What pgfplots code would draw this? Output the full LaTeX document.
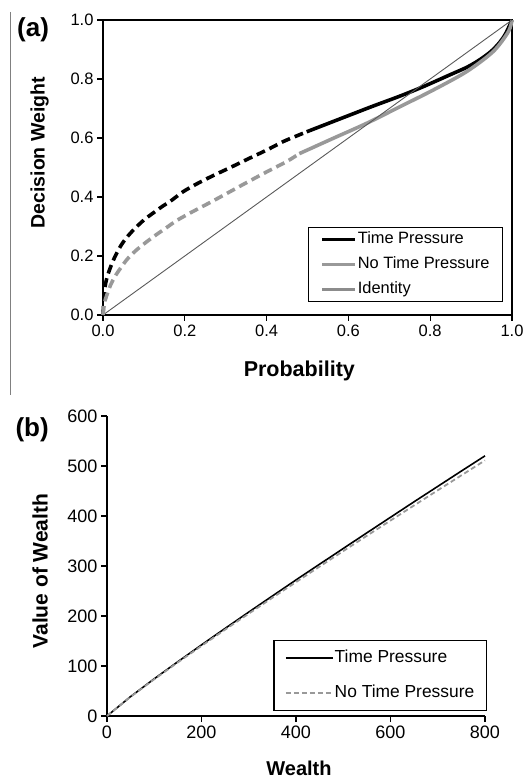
\documentclass[border=0pt]{standalone}
\usepackage{fontspec}
\setmainfont{Liberation Sans}
\usepackage{pgfplots}
\pgfplotsset{compat=1.18}
\definecolor{ntp}{gray}{0.6}
\definecolor{idc}{gray}{0.35}
\definecolor{idl}{gray}{0.55}

\begin{document}
\begin{tikzpicture}[x=1pt,y=1pt]
\useasboundingbox (0,0) rectangle (523,778);
\draw[gray, line width=1pt] (10,766) -- (10,383);

% ---------------- Panel (a) ----------------
\begin{axis}[
  at={(103pt,463pt)}, anchor=south west,
  scale only axis, width=409pt, height=295pt,
  xmin=0, xmax=1, ymin=0, ymax=1,
  xtick={0,0.2,0.4,0.6,0.8,1}, ytick={0,0.2,0.4,0.6,0.8,1},
  tick pos=left, tick align=outside, major tick length=6pt,
  every tick/.style={black, line width=1.3pt},
  axis line style={line width=1.4pt},
  /pgf/number format/assume math mode=true,
  /pgf/number format/.cd, fixed, fixed zerofill, precision=1, /pgfplots/.cd,
  tick label style={font=\fontsize{16.5}{18}\selectfont},
  xlabel={Probability}, ylabel={Decision Weight},
  xlabel style={at={(axis description cs:0.48,-0.19)}, anchor=center, font=\fontsize{21.5}{24}\selectfont\bfseries},
  ylabel style={at={(axis description cs:-0.155,0.55)}, anchor=center, font=\fontsize{19.5}{22}\selectfont\bfseries},
  clip=false,
  legend cell align=left,
  legend image code/.code={\draw[#1] (0pt,0pt) -- (33pt,0pt);},
  legend style={at={(0.978,0.044)}, anchor=south east, draw=black, line width=1.2pt,
    font=\fontsize{16.4}{18}\selectfont, inner xsep=12pt, inner ysep=3.5pt, row sep=8pt,
    nodes={inner sep=1pt, text height=12pt, text depth=3pt}},
]
\addplot[black, line width=3.6pt, smooth] coordinates {
(0.498,0.621) (0.55,0.649) (0.604,0.678) (0.66,0.708) (0.726,0.742) (0.783,0.774)
(0.848,0.814) (0.89,0.840) (0.922,0.866) (0.95,0.895) (0.971,0.926) (0.985,0.955) (1.0,1.0)};
\addlegendentry{Time Pressure}
\addplot[ntp, line width=3.6pt, smooth] coordinates {
(0.48,0.547) (0.52,0.572) (0.563,0.599) (0.645,0.650) (0.726,0.706) (0.808,0.763)
(0.889,0.825) (0.954,0.893) (0.991,0.96) (1.0,1.0)};
\addlegendentry{No Time Pressure}
\addplot[idc, line width=0.9pt, legend image post style={idl, line width=2.2pt}] coordinates {(0,0) (1,1)};
\addlegendentry{Identity}
\addplot[black, line width=3.6pt, smooth, dash pattern=on 9pt off 5pt, forget plot] coordinates {
(0,0) (0.004,0.085) (0.01,0.128) (0.02,0.168) (0.03,0.2) (0.045,0.238) (0.06,0.266)
(0.077,0.292) (0.10,0.322) (0.118,0.341) (0.145,0.368) (0.167,0.388) (0.196,0.418)
(0.23,0.445) (0.27,0.473) (0.31,0.499) (0.35,0.526) (0.40,0.559) (0.441,0.588) (0.47,0.605) (0.498,0.621)};
\addplot[ntp, line width=3.6pt, smooth, dash pattern=on 9pt off 5pt, forget plot] coordinates {
(0,0) (0.003,0.04) (0.008,0.062) (0.018,0.10) (0.029,0.13) (0.045,0.163) (0.061,0.192)
(0.08,0.218) (0.102,0.243) (0.125,0.267) (0.151,0.292) (0.18,0.32) (0.216,0.348)
(0.26,0.38) (0.30,0.41) (0.35,0.448) (0.40,0.485) (0.449,0.52) (0.48,0.547)};
\node[font=\fontsize{26}{28}\selectfont\bfseries] at (axis description cs:-0.171,0.966) {(a)};
\end{axis}

% ---------------- Panel (b) ----------------
\begin{axis}[
  at={(107pt,62pt)}, anchor=south west,
  scale only axis, width=378pt, height=300pt,
  xmin=0, xmax=800, ymin=0, ymax=600,
  xtick={0,200,400,600,800}, ytick={0,100,200,300,400,500,600},
  axis x line*=bottom, axis y line*=left,
  tick align=outside, major tick length=6pt,
  every tick/.style={black, line width=1.3pt},
  axis line style={line width=1.4pt, -},
  /pgf/number format/assume math mode=true,
  tick label style={font=\fontsize{18}{20}\selectfont},
  xlabel={Wealth}, ylabel={Value of Wealth},
  xlabel style={at={(axis description cs:0.508,-0.173)}, anchor=center, font=\fontsize{20}{22}\selectfont\bfseries},
  ylabel style={at={(axis description cs:-0.177,0.483)}, anchor=center, font=\fontsize{21}{23}\selectfont\bfseries},
  clip=false,
  legend cell align=left,
  legend image code/.code={\draw[#1] (0pt,0pt) -- (47pt,0pt);},
  legend style={at={(1.005,0.017)}, anchor=south east, draw=black, line width=1.2pt,
    font=\fontsize{17.4}{19}\selectfont, inner xsep=11pt, inner ysep=8pt, row sep=16pt,
    nodes={inner sep=1pt, text height=13pt, text depth=4pt}},
]
\addplot[black, line width=1.6pt] coordinates {
(0,0) (50,38.9) (100,74.4) (150,108.6) (200,142.2) (250,175.2) (300,207.8) (350,240.0)
(400,272.1) (450,303.6) (500,335.0) (550,366.3) (600,397.4) (650,428.5) (700,459.2)
(750,489.9) (800,520.3)};
\addlegendentry{Time Pressure}
\addplot[ntp, line width=1.8pt, dash pattern=on 5pt off 3pt] coordinates {
(0,0) (50,38.5) (100,73.4) (150,107.2) (200,140.2) (250,172.7) (300,204.7) (350,236.4)
(400,267.8) (450,298.9) (500,329.8) (550,360.5) (600,390.9) (650,421.2) (700,451.4)
(750,481.3) (800,511.2)};
\addlegendentry{No Time Pressure}
\node[font=\fontsize{26}{28}\selectfont\bfseries] at (axis description cs:-0.198,0.953) {(b)};
\end{axis}
\end{tikzpicture}
\end{document}
